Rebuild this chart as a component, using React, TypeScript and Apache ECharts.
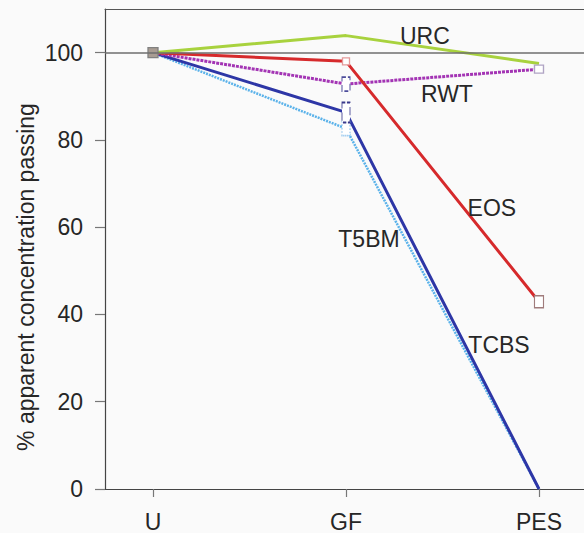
import React, { useEffect, useRef } from "react";
import * as echarts from "echarts";

// ---- data ----
const categories = ["U", "GF", "PES"];
const seriesNames = ["TCBS", "T5BM", "RWT", "EOS", "URC"];
const tcbsValues = [100, 82.6, 0];
const t5bmValues = [100, 86.3, 0];
const rwtValues = [100, 92.8, 96.2];
const eosValues = [100, 98.0, 42.9];
const urcValues = [100, 103.9, 97.5];
const yTicks = [0, 20, 40, 60, 80, 100];
// label anchors in data units [x (category index), y]
const labelAnchors: Record<string, [number, number]> = {
  URC: [1.409, 103.9],
  RWT: [1.523, 90.6],
  EOS: [1.756, 64.4],
  T5BM: [1.119, 57.4],
  TCBS: [1.793, 33.0],
};

const FONT = "'Liberation Sans', Arial, Helvetica, sans-serif";
const X_MIN = -0.2487;
const X_MAX = 2.2332;

const lineStyles: Record<string, any> = {
  TCBS: { color: "#5ab2ea", width: 2.5, type: [2, 1] },
  T5BM: { color: "#2d36a6", width: 3, type: "solid" },
  RWT: { color: "#a334b4", width: 3, type: [3, 1] },
  EOS: { color: "#d62a2c", width: 3, type: "solid" },
  URC: { color: "#a8d23e", width: 3, type: "solid" },
};

// marker specs: per series, per category index
const markerSpecs: Record<string, Record<number, any>> = {
  TCBS: { 1: { size: [8, 14], border: "#78b8ea", fill: "#ffffff", type: "dotted" } },
  T5BM: { 1: { size: [8, 20], border: "#3a3a8c", fill: "#ffffff", type: "dashed" } },
  RWT: {
    1: { size: [8, 14], border: "#4c4c9a", fill: "#ffffff", type: "dashed" },
    2: { size: [9, 8], border: "#b0a4c4", fill: "#ffffff", type: "solid" },
  },
  EOS: {
    1: { size: [7, 7], border: "#e49a9a", fill: "#ffffff", type: "solid" },
    2: { size: [9, 12], border: "#a07c7c", fill: "#ffffff", type: "solid" },
  },
  URC: { 0: { size: [10, 10], border: "#808080", fill: "#a89c92", type: "solid" } },
};

const valuesByName: Record<string, number[]> = {
  TCBS: tcbsValues,
  T5BM: t5bmValues,
  RWT: rwtValues,
  EOS: eosValues,
  URC: urcValues,
};

export default function App() {
  const ref = useRef<HTMLDivElement>(null);
  useEffect(() => {
    if (!ref.current) return;
    const chart = echarts.init(ref.current, null, { renderer: "svg" });
    const series = seriesNames.map((name) => {
      const spec = markerSpecs[name] || {};
      const data = valuesByName[name].map((v, i) => {
        const m = spec[i];
        if (!m) return { value: [i, v], symbol: "none" };
        return {
          value: [i, v],
          symbol: "rect",
          symbolSize: m.size,
          itemStyle: {
            color: m.fill,
            borderColor: m.border,
            borderWidth: 1.3,
            borderType: m.type,
          },
        };
      });
      const [ax, ay] = labelAnchors[name];
      return {
        name,
        type: "line",
        data,
        showSymbol: true,
        lineStyle: lineStyles[name],
        itemStyle: { color: lineStyles[name].color },
        emphasis: { disabled: true },
        z: 3,
        markPoint: {
          symbol: "circle",
          symbolSize: 0,
          silent: true,
          data: [{ coord: [ax, ay], name }],
          label: {
            show: true,
            position: "inside",
            formatter: name,
            color: "#272727",
            fontSize: 23,
            fontFamily: FONT,
          },
        },
      };
    });
    // reference line at 100
    (series as any).push({
      type: "line",
      data: [],
      z: 1,
      markLine: {
        silent: true,
        symbol: "none",
        label: { show: false },
        lineStyle: { color: "#6e6e6e", width: 1.5, type: "solid" },
        data: [{ yAxis: 100 }],
      },
    });
    chart.setOption({
      animation: false,
      backgroundColor: "#fafafa",
      grid: {
        left: 105,
        right: 0,
        top: 9,
        bottom: 44,
        show: false,
      },
      xAxis: [
        {
          type: "value",
          min: X_MIN,
          max: X_MAX,
          splitLine: { show: false },
          axisLine: { show: true, onZero: false, lineStyle: { color: "#444444", width: 1.2 } },
          axisTick: {
            show: true,
            length: 8,
            customValues: [0, 1, 2],
            lineStyle: { color: "#777777", width: 1.2 },
          },
          axisLabel: {
            customValues: [0, 1, 2],
            formatter: (v: number) => categories[Math.round(v)] ?? "",
            margin: 21,
            color: "#262626",
            fontSize: 23,
            fontFamily: FONT,
          },
        },
        {
          type: "value",
          position: "top",
          min: X_MIN,
          max: X_MAX,
          splitLine: { show: false },
          axisLine: { show: true, onZero: false, lineStyle: { color: "#555555", width: 1 } },
          axisTick: { show: false },
          axisLabel: { show: false },
        },
      ],
      yAxis: {
        type: "value",
        min: 0,
        max: 110,
        splitLine: { show: false },
        axisLine: { show: true, onZero: false, lineStyle: { color: "#444444", width: 1.2 } },
        axisTick: {
          show: true,
          length: 10,
          customValues: yTicks,
          lineStyle: { color: "#777777", width: 1.2 },
        },
        axisLabel: {
          customValues: yTicks,
          margin: 22,
          color: "#262626",
          fontSize: 23,
          fontFamily: FONT,
        },
      },
      graphic: [
        {
          type: "text",
          x: 26,
          y: 277,
          rotation: Math.PI / 2,
          style: {
            text: "% apparent concentration passing",
            fill: "#262626",
            font: `23px ${FONT}`,
            textAlign: "center",
            textVerticalAlign: "middle",
          },
        },
      ],
      series,
    });
    return () => chart.dispose();
  }, []);
  return (
    <div
      ref={ref}
      style={{ position: "fixed", left: 0, top: 0, width: 584, height: 533 }}
    />
  );
}
